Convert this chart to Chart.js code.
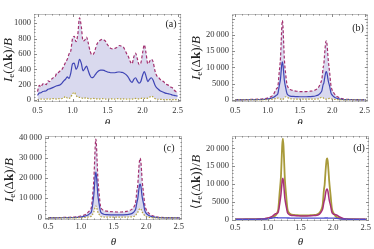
<!DOCTYPE html>
<html>
<head>
<meta charset="utf-8">
<script src="https://cdn.jsdelivr.net/npm/chart.js@4.4.1/dist/chart.umd.min.js"></script>
<style>
html, body { margin: 0; padding: 0; background: #fff; width: 374px; height: 249px; overflow: hidden; }
canvas { position: absolute; }
</style>
</head>
<body>
<canvas id="pa" width="187" height="124" style="left:0;top:0"></canvas>
<canvas id="pb" width="187" height="124" style="left:187px;top:0"></canvas>
<canvas id="pc" width="187" height="125" style="left:0;top:124px"></canvas>
<canvas id="pd" width="187" height="125" style="left:187px;top:124px"></canvas>
<script>
// ---- data ----
const xTicks = [0.5, 1.0, 1.5, 2.0, 2.5];
const yTicksA = [0, 200, 400, 600, 800, 1000];
const yTicksB = [0, 5000, 10000, 15000, 20000];
const yTicksC = [0, 10000, 20000, 30000, 40000];
const yTicksD = [0, 5000, 10000, 15000, 20000];

// panel (a): jagged curves
const thetaA = [0.5,0.525,0.55,0.575,0.6,0.625,0.65,0.675,0.7,0.725,0.75,0.775,0.8,0.825,0.85,0.875,0.9,0.925,0.95,0.975,
  1.0,1.025,1.05,1.075,1.1,1.125,1.15,1.175,1.2,1.225,1.25,1.275,1.3,1.325,1.35,1.375,1.4,1.425,1.45,1.475,
  1.5,1.525,1.55,1.575,1.6,1.625,1.65,1.675,1.7,1.725,1.75,1.775,1.8,1.825,1.85,1.875,1.9,1.925,1.95,1.975,
  2.0,2.025,2.05,2.075,2.1,2.125,2.15,2.175,2.2,2.225,2.25,2.275,2.3,2.325,2.35,2.375,2.4,2.425,2.45,2.475,2.5];
const upperA = [110,190,170,210,215,200,250,240,270,290, 300,350,360,380,400,440,490,530,600,640,
  800,830,760,850,1070,960,770,780,820,740, 640,590,600,660,730,760,780,790,780,760,
  720,690,670,665,670,680,700,710,700,690, 650,600,560,500,470,560,610,540,460,480,
  610,720,610,470,500,530,500,390,320,300, 270,250,240,210,200,190,170,160,130,110,100];
const midA = [60,90,95,110,115,120,140,145,155,165, 175,185,190,200,220,250,270,300,280,350,
  470,480,400,440,530,480,380,410,440,380, 320,290,300,330,360,380,390,390,385,375,
  365,360,355,355,355,360,365,365,360,355, 340,320,290,250,230,270,290,250,220,240,
  320,370,310,240,270,290,260,200,160,140, 120,110,100,90,85,80,75,65,60,55,50];
const lowA = [5,10,12,15,10,12,15,12,15,18, 15,12,18,15,20,30,45,25,20,40,
  80,100,60,40,35,30,20,25,30,20, 15,18,20,15,15,12,15,18,15,12,
  15,12,15,15,12,15,18,15,12,15, 15,12,15,12,12,15,20,15,15,20,
  25,22,20,25,35,50,40,20,10,10, 8,8,6,6,5,5,5,5,5,5,5];

// panels (b)-(d): two resonance peaks
const thetaP = [0.5,0.6,0.7,0.8,0.9,0.95,1.0,1.05,1.08,1.1,1.12,1.14,1.16,1.18,1.2,1.21,1.22,1.23,1.24,1.25,
  1.26,1.28,1.3,1.32,1.35,1.4,1.45,1.5,1.55,1.6,1.65,1.7,1.75,1.78,1.8,1.82,1.84,1.86,1.87,1.88,
  1.89,1.9,1.91,1.92,1.93,1.94,1.96,1.98,2.0,2.03,2.06,2.1,2.15,2.2,2.3,2.4,2.5];
const upperB = [100,120,150,200,300,400,600,1000,1400,2000,2800,3500,4300,8500,13000,17500,22500,24500,22000,17000,
  12500,8000,4800,3800,3200,2900,2700,2600,2600,2600,2700,2800,3200,3700,4300,5200,6500,10000,11000,13500,
  16000,17800,18200,17000,14500,12000,8500,4500,3000,2000,1300,800,400,250,150,100,80];
const midB = [50,60,80,100,150,200,300,500,700,900,1200,1500,2000,4300,6500,8800,11000,11700,10500,8200,
  6000,3800,2000,1500,1200,1100,1050,1000,1000,1000,1050,1100,1300,1500,1800,2200,2900,4800,5200,6400,
  7600,8500,8700,8100,6900,5700,4200,2200,1500,900,600,350,200,120,80,60,50];
const lowB = [20,20,30,40,60,80,150,200,250,300,400,500,600,500,300,200,150,150,250,450,
  700,1000,900,600,400,300,250,250,250,250,250,280,300,350,500,700,850,700,500,400,
  300,250,250,300,400,450,500,400,300,200,150,100,50,30,20,10,10];
const upperC = [150,200,250,350,500,700,1000,1500,2000,2500,3200,4000,5200,11000,20000,28000,36000,39500,35500,27500,
  20000,12000,6000,4500,3800,3400,3200,3100,3000,3000,3100,3300,3800,4300,5000,6000,8000,14000,16000,20500,
  25500,29000,30000,28000,23500,18500,12500,6500,4300,2800,1800,1100,600,350,200,150,100];
const midC = [80,100,130,180,250,350,500,800,1100,1400,1800,2300,3000,6500,12000,16500,21000,23000,20500,16000,
  11500,7000,3300,2400,1900,1700,1600,1550,1550,1550,1600,1700,1900,2200,2600,3300,4500,8000,9300,11800,
  14500,16500,17000,15800,13200,10400,7200,3700,2400,1500,1000,600,300,180,100,80,60];
const lowC = [20,30,40,60,90,120,180,250,320,400,500,650,850,1800,3200,4400,5600,6000,5400,4200,
  3000,1800,850,600,500,450,420,400,400,400,420,450,520,600,700,900,1300,2400,2700,3400,
  4100,4600,4800,4500,3800,3000,2100,1100,700,450,300,180,100,60,30,20,15];
const yellowD = [50,60,80,100,150,200,300,500,700,900,1200,1800,3000,7500,12000,16500,21000,22800,20500,16000,
  11500,6800,3000,2000,1500,1300,1200,1150,1150,1150,1200,1250,1400,1700,2100,2800,4200,8500,9800,12500,
  15000,16800,17200,16000,13500,10800,7000,3300,2000,1100,600,350,200,120,80,60,50];
const magentaD = [40,50,70,90,150,250,400,700,1100,1400,1600,1700,2200,4300,7000,9000,11000,11600,10500,8200,
  6000,3800,2000,1500,1200,1100,1050,1000,1000,1000,1050,1100,1200,1400,1700,2200,3000,5000,5600,6800,
  7900,8500,8600,8000,6800,5500,4000,2100,1600,1400,1200,700,300,150,80,60,50];
const blueD = [20,25,35,50,80,120,200,350,450,500,520,500,480,460,450,450,450,450,450,445,
  440,435,430,420,410,400,390,385,380,380,380,380,385,390,400,405,410,415,418,420,
  420,420,420,418,415,410,405,400,380,350,300,200,120,80,50,30,20];

// ---- styling ----
const SERIF = "'Liberation Serif', 'DejaVu Serif', serif";
const C_DASH = '#a3306f';
const C_BLUE = '#3f45b5';
const C_YEL = '#b4a23c';
const C_FILL = '#d9d9ee';

const titleSegs = [['I', 'italic'], ['e', '', 0.7, 3], ['(Δ', ''], ['k', 'bold'], [')/', ''], ['B', 'italic']];
const titleSegsD = [['⟨', ''], ['I', 'italic'], ['e', '', 0.7, 3], ['(Δ', ''], ['k', 'bold'], [')⟩/', ''], ['B', 'italic']];

function fmt(v) {
  const s = String(v);
  return v >= 10000 ? s.slice(0, s.length - 3) + '\u2009' + s.slice(-3) : s;
}

function pts(xs, ys) {
  return xs.map((t, i) => ({ x: t, y: ys[i] }));
}

const framePlugin = {
  id: 'frame',
  afterDraw(chart, args, o) {
    const { ctx, chartArea: a, scales: { x, y } } = chart;
    ctx.save();
    ctx.strokeStyle = '#c0c0c0';
    ctx.lineWidth = 1;
    ctx.strokeRect(a.left + 0.5, a.top + 0.5, a.right - a.left - 1, a.bottom - a.top - 1);
    ctx.strokeStyle = '#8a8a8a';
    ctx.beginPath();
    for (let t = 5; t <= 25; t++) {
      const px = Math.round(x.getPixelForValue(t / 10)) + 0.5;
      const len = t % 5 === 0 ? 3 : 1.5;
      ctx.moveTo(px, a.bottom); ctx.lineTo(px, a.bottom - len);
      ctx.moveTo(px, a.top); ctx.lineTo(px, a.top + len);
    }
    const step = o.yTicks[1] - o.yTicks[0];
    for (let v = 0; v <= y.max; v += step / 5) {
      const py = Math.round(y.getPixelForValue(v)) + 0.5;
      const major = Math.abs(v / step - Math.round(v / step)) < 1e-6;
      const len = major ? 3 : 1.5;
      ctx.moveTo(a.left, py); ctx.lineTo(a.left + len, py);
      ctx.moveTo(a.right, py); ctx.lineTo(a.right - len, py);
    }
    ctx.stroke();

    // panel tag
    ctx.fillStyle = '#222';
    ctx.font = '10px ' + SERIF;
    ctx.textAlign = 'center';
    ctx.textBaseline = 'middle';
    ctx.fillText(o.tag, o.tagX, o.tagY);

    // rotated y title with mixed styles
    ctx.translate(o.titleX, o.titleY);
    ctx.rotate(-Math.PI / 2);
    ctx.textAlign = 'left';
    const size = 13;
    const fonts = o.segs.map(s => (s[1] ? s[1] + ' ' : '') + Math.round(size * (s[2] || 1)) + 'px ' + SERIF);
    let w = 0;
    o.segs.forEach((s, i) => { ctx.font = fonts[i]; w += ctx.measureText(s[0]).width; });
    let cx = -w / 2;
    o.segs.forEach((s, i) => {
      ctx.font = fonts[i];
      ctx.fillText(s[0], cx, s[3] || 0);
      cx += ctx.measureText(s[0]).width;
    });
    ctx.restore();
  }
};

function makePanel(id, cfg) {
  const el = document.getElementById(id);
  const W = el.width, H = el.height;
  return new Chart(el, {
    type: 'line',
    data: { datasets: cfg.datasets },
    options: {
      responsive: false,
      animation: false,
      devicePixelRatio: 1,
      layout: { padding: { left: 0, top: cfg.area.t, right: W - cfg.area.r, bottom: 0 } },
      elements: { point: { radius: 0 }, line: { cubicInterpolationMode: 'monotone' } },
      plugins: {
        legend: { display: false },
        tooltip: { enabled: false },
        frame: { tag: cfg.tag, tagX: cfg.tagX, tagY: cfg.tagY, segs: cfg.segs, titleX: cfg.titleX, titleY: cfg.titleY, yTicks: cfg.yTicks }
      },
      scales: {
        x: {
          type: 'linear', min: 0.45, max: 2.55,
          afterFit: s => { s.height = H - cfg.area.b; },
          afterBuildTicks: s => { s.ticks = xTicks.map(v => ({ value: v })); },
          grid: { display: false, drawTicks: false }, border: { display: false },
          ticks: { font: { family: SERIF, size: 8.5 }, color: '#333', padding: cfg.xPad, maxRotation: 0, autoSkip: false, callback: v => v.toFixed(1) },
          title: { display: true, text: 'θ', color: '#222', font: { family: SERIF, size: 11, style: 'italic', lineHeight: 1 }, padding: { top: 0, bottom: cfg.thetaPad } }
        },
        y: {
          type: 'linear', min: cfg.yMin, max: cfg.yMax,
          afterFit: s => { s.width = cfg.area.l; },
          afterBuildTicks: s => { s.ticks = cfg.yTicks.map(v => ({ value: v })); },
          grid: { display: false, drawTicks: false }, border: { display: false },
          ticks: { font: { family: SERIF, size: 8.5 }, color: '#333', padding: 3, autoSkip: false, callback: fmt }
        }
      }
    },
    plugins: [framePlugin]
  });
}

function bandSets(xs, low, mid, up) {
  return [
    { data: pts(xs, low), borderColor: C_YEL, borderWidth: 1.2, borderDash: [1.5, 1.5], fill: false },
    { data: pts(xs, mid), borderColor: C_BLUE, borderWidth: 1.2, fill: false },
    { data: pts(xs, up), borderColor: C_DASH, borderWidth: 1.2, borderDash: [3, 2], fill: '-2', backgroundColor: C_FILL }
  ];
}

makePanel('pa', {
  datasets: bandSets(thetaA, lowA, midA, upperA),
  area: { l: 34, r: 182, t: 14, b: 102 }, yMin: -26, yMax: 1120, yTicks: yTicksA,
  xPad: 4, thetaPad: -4.5, tag: '(a)', tagX: 171, tagY: 24, segs: titleSegs, titleX: 9, titleY: 60
});
makePanel('pb', {
  datasets: bandSets(thetaP, lowB, midB, upperB),
  area: { l: 45, r: 182, t: 14, b: 102 }, yMin: -615, yMax: 26460, yTicks: yTicksB,
  xPad: 4, thetaPad: -4.5, tag: '(b)', tagX: 171, tagY: 28, segs: titleSegs, titleX: 10, titleY: 58
});
makePanel('pc', {
  datasets: bandSets(thetaP, lowC, midC, upperC),
  area: { l: 45, r: 182, t: 12, b: 96 }, yMin: -1000, yMax: 41000, yTicks: yTicksC,
  xPad: 2, thetaPad: 1.5, tag: '(c)', tagX: 169, tagY: 24, segs: titleSegs, titleX: 10, titleY: 56
});
makePanel('pd', {
  datasets: [
    { data: pts(thetaP, blueD), borderColor: '#4a4ad0', borderWidth: 1.3, fill: false },
    { data: pts(thetaP, magentaD), borderColor: '#a8307a', borderWidth: 1.5, fill: false },
    { data: pts(thetaP, yellowD), borderColor: '#a89a3a', borderWidth: 1.8, fill: false }
  ],
  area: { l: 45, r: 182, t: 12, b: 97 }, yMin: -420, yMax: 23520, yTicks: yTicksD,
  xPad: 2, thetaPad: 1.5, tag: '(d)', tagX: 172, tagY: 24, segs: titleSegsD, titleX: 10, titleY: 58
});
</script>
</body>
</html>
